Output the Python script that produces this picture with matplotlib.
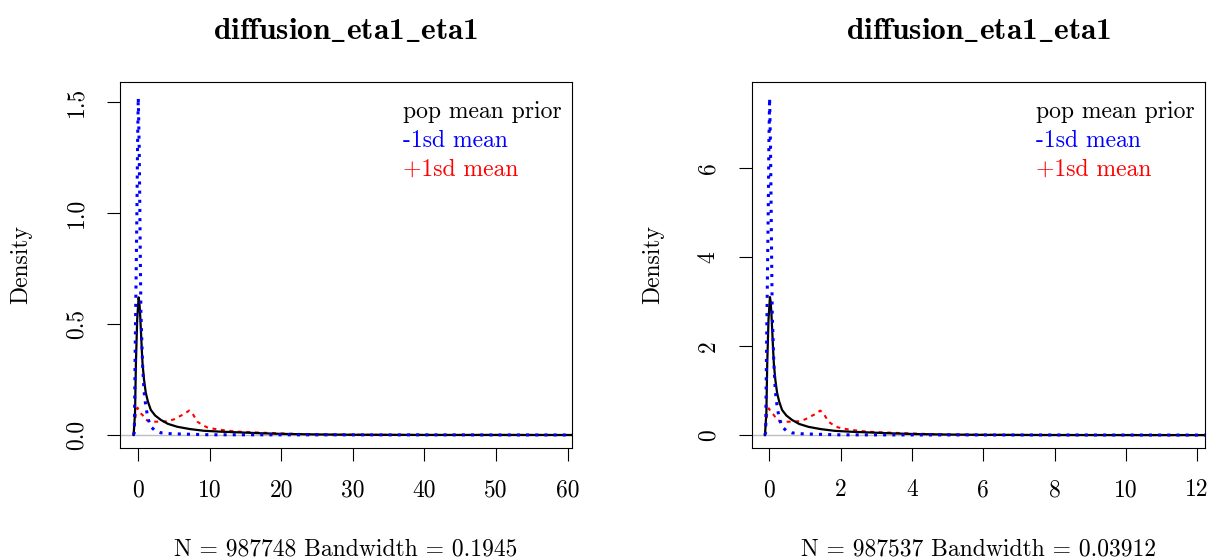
import matplotlib
matplotlib.use("Agg")
import matplotlib.pyplot as plt

plt.rcParams["font.family"] = ["cmr10", "DejaVu Serif"]
plt.rcParams["mathtext.fontset"] = "cm"
plt.rcParams["axes.formatter.use_mathtext"] = True

# cmb10 has no real underscore glyph, so the underscores go through mathtext
title = r"diffusion$\mathbf{\_}$eta1$\mathbf{\_}$eta1"
legend_labels = ["pop mean prior", "-1sd mean", "+1sd mean"]
legend_colors = ["black", "blue", "red"]

# left panel
left_prior_x = [-0.6, -0.4, -0.28, -0.1, 0.1, 0.2, 0.3, 0.42, 0.55, 0.65, 0.85, 1.1, 1.4, 1.8, 2.4, 3.2, 4.2, 5.5, 7.2, 9.2, 11.5, 13.9, 17, 20, 25, 30, 40, 61]
left_prior_y = [0, 0.1, 0.32, 0.52, 0.62, 0.6, 0.55, 0.47, 0.38, 0.32, 0.25, 0.19, 0.15, 0.113, 0.088, 0.068, 0.05, 0.037, 0.027, 0.019, 0.015, 0.012, 0.008, 0.005, 0.0025, 0.001, 0.0003, 0]
left_minus_x = [-0.65, -0.5, -0.37, -0.14, -0.05, 0.05, 0.18, 0.32, 0.42, 0.65, 0.85, 1.1, 1.4, 1.8, 2.4, 3.2, 4.5, 6.4, 10, 61]
left_minus_y = [0, 0.01, 0.4, 1.0, 1.3, 1.52, 1.3, 0.85, 0.55, 0.32, 0.2, 0.13, 0.075, 0.037, 0.02, 0.01, 0.006, 0.004, 0.001, 0]
left_plus_x = [-0.6, -0.28, -0.05, 0.3, 0.65, 1.1, 1.6, 2.3, 3.2, 4.1, 5.0, 5.75, 6.5, 7.15, 7.6, 8.3, 9.0, 9.7, 10.6, 11.6, 13.9, 17.6, 22, 26, 35, 61]
left_plus_y = [0, 0.098, 0.123, 0.1, 0.09, 0.068, 0.062, 0.06, 0.06, 0.062, 0.07, 0.083, 0.095, 0.11, 0.098, 0.06, 0.045, 0.034, 0.028, 0.023, 0.015, 0.01, 0.005, 0.002, 0.0005, 0]
left_xlabel = "N = 987748 Bandwidth = 0.1945"
left_xticks = [0, 10, 20, 30, 40, 50, 60]
left_yticks = [0.0, 0.5, 1.0, 1.5]
left_yticklabels = ["0.0", "0.5", "1.0", "1.5"]

# right panel
right_prior_x = [-0.12, -0.08, -0.056, -0.02, 0.02, 0.04, 0.06, 0.084, 0.11, 0.13, 0.17, 0.22, 0.28, 0.36, 0.48, 0.64, 0.84, 1.1, 1.44, 1.84, 2.3, 2.78, 3.4, 4, 5, 6, 8, 12.5]
right_prior_y = [0, 0.5, 1.6, 2.6, 3.1, 3.0, 2.75, 2.35, 1.9, 1.6, 1.25, 0.95, 0.75, 0.565, 0.44, 0.34, 0.25, 0.185, 0.135, 0.095, 0.075, 0.06, 0.04, 0.025, 0.012, 0.005, 0.0015, 0]
right_minus_x = [-0.13, -0.1, -0.074, -0.028, -0.01, 0.01, 0.036, 0.064, 0.084, 0.13, 0.17, 0.22, 0.28, 0.36, 0.48, 0.64, 0.9, 1.28, 2, 12.5]
right_minus_y = [0, 0.05, 2.0, 5.0, 6.5, 7.57, 6.5, 4.25, 2.75, 1.6, 1.0, 0.65, 0.375, 0.185, 0.1, 0.05, 0.03, 0.02, 0.005, 0]
right_plus_x = [-0.12, -0.056, -0.01, 0.06, 0.13, 0.22, 0.32, 0.46, 0.64, 0.82, 1.0, 1.15, 1.3, 1.43, 1.52, 1.66, 1.8, 1.94, 2.12, 2.32, 2.78, 3.52, 4.4, 5.2, 7, 12.5]
right_plus_y = [0, 0.49, 0.6, 0.5, 0.45, 0.34, 0.31, 0.3, 0.3, 0.31, 0.35, 0.415, 0.475, 0.55, 0.49, 0.3, 0.225, 0.17, 0.14, 0.115, 0.075, 0.05, 0.025, 0.01, 0.0025, 0]
right_xlabel = "N = 987537 Bandwidth = 0.03912"
right_xticks = [0, 2, 4, 6, 8, 10, 12]
right_yticks = [0, 2, 4, 6]
right_yticklabels = ["0", "2", "4", "6"]


def draw_panel(ax, prior, minus, plus, xlabel, xticks, yticks, yticklabels, xlim, ylim):
    ax.axhline(0, color="#bebebe", lw=1.0, zorder=1)
    ax.plot(prior[0], prior[1], color="black", lw=1.6, zorder=3)
    ax.plot(minus[0], minus[1], color="blue", lw=2.2, zorder=4,
            linestyle=(0, (1.0, 2.0)), dash_capstyle="butt")
    ax.plot(plus[0], plus[1], color="red", lw=1.5, zorder=2,
            linestyle=(0, (1.9, 2.2)), dash_capstyle="butt")
    ax.set_xlim(*xlim)
    ax.set_ylim(*ylim)
    ax.set_xticks(xticks)
    ax.set_xticklabels([str(t) for t in xticks])
    ax.set_yticks(yticks)
    ax.set_yticklabels(yticklabels, rotation=90, va="center")
    ax.tick_params(length=9.5, width=0.8, labelsize=17, pad=13)
    ax.tick_params(axis="y", pad=14)
    for s in ax.spines.values():
        s.set_linewidth(0.8)
    ax.set_title(title, fontsize=22.6, pad=31, family=["cmb10", "DejaVu Serif"])
    ax.set_xlabel(xlabel, fontsize=17, labelpad=27)
    ax.set_ylabel("Density", fontsize=17, labelpad=24)
    ys = [0.918, 0.839, 0.760]
    for lab, col, yy in zip(legend_labels, legend_colors, ys):
        ax.text(0.626, yy, lab, color=col, fontsize=17, transform=ax.transAxes, va="center", ha="left")


fig = plt.figure(figsize=(12.17, 5.6), dpi=100)
ax1 = fig.add_axes([0.0986, 0.2, 0.3714, 0.6536])
ax2 = fig.add_axes([0.618, 0.2, 0.3722, 0.6536])

draw_panel(ax1, (left_prior_x, left_prior_y), (left_minus_x, left_minus_y),
           (left_plus_x, left_plus_y), left_xlabel, left_xticks,
           left_yticks, left_yticklabels, (-2.5, 60.6), (-0.0586, 1.59))
draw_panel(ax2, (right_prior_x, right_prior_y), (right_minus_x, right_minus_y),
           (right_plus_x, right_plus_y), right_xlabel, right_xticks,
           right_yticks, right_yticklabels, (-0.48, 12.22), (-0.29, 7.93))

fig.savefig("out.png", dpi=100)
